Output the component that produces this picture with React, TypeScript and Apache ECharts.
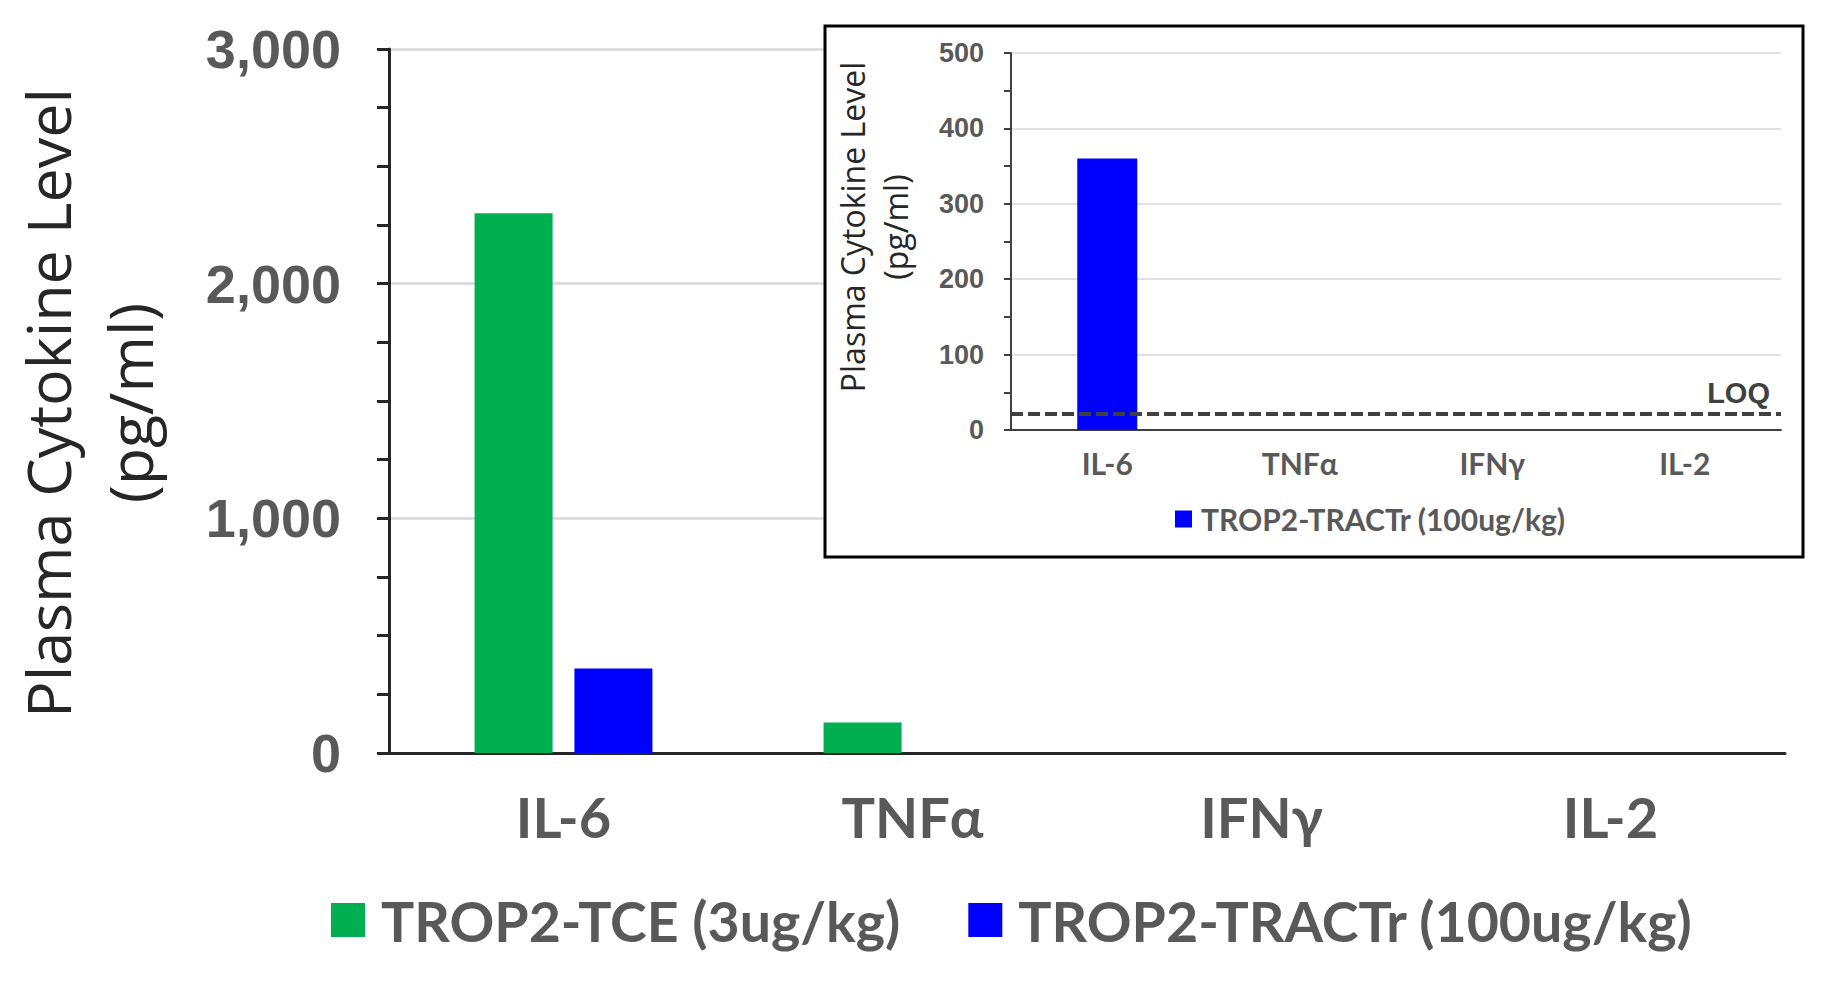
import React, { useEffect, useRef } from "react";
import * as echarts from "echarts";

const categories = ["IL-6", "TNFα", "IFNγ", "IL-2"];
const tceValues = [2300, 130, 0, 0];
const tractrValues = [360, 0, 0, 0];
const insetTractrValues = [360, 0, 0, 0];
const loqValue = 22;
const mainYMax = 3000;
const mainYInterval = 1000;
const insetYMax = 500;
const insetYInterval = 100;
const seriesNames = ["TROP2-TCE (3ug/kg)", "TROP2-TRACTr (100ug/kg)"];
const axisTitleLines = ["Plasma Cytokine Level", "(pg/ml)"];
const loqText = "LOQ";

const GREEN = "#00B050";
const BLUE = "#0000FF";
const DARK = "#262626";
const GREY = "#595959";
const GRID = "#d9d9d9";

export default function App() {
  const ref = useRef<HTMLDivElement>(null);

  useEffect(() => {
    if (!ref.current) return;
    const chart = echarts.init(ref.current, null, { renderer: "svg" });
    const option: any = {
      animation: false,
      backgroundColor: "#ffffff",
      grid: [
        { left: 389, top: 49, width: 1396, height: 704 },
        { left: 1011, top: 53, width: 770, height: 377 },
      ],
      xAxis: [
        {
          type: "category",
          gridIndex: 0,
          data: categories,
          axisLine: { lineStyle: { color: DARK, width: 3 } },
          axisTick: { show: false },
          axisLabel: {
            margin: 35,
            fontFamily: "Lato",
            fontWeight: "bold",
            fontSize: 56,
            lineHeight: 56,
            color: GREY,
          },
        },
        {
          type: "category",
          gridIndex: 1,
          data: categories,
          z: 4,
          axisLine: { lineStyle: { color: "#404040", width: 2 } },
          axisTick: { show: false },
          axisLabel: {
            margin: 18,
            fontFamily: "Lato",
            fontWeight: "bold",
            fontSize: 30,
            lineHeight: 30,
            color: GREY,
          },
        },
      ],
      yAxis: [
        {
          type: "value",
          gridIndex: 0,
          min: 0,
          max: mainYMax,
          interval: mainYInterval,
          axisLine: { show: true, lineStyle: { color: DARK, width: 3 } },
          axisTick: { show: true, length: 12, lineStyle: { color: DARK, width: 3 } },
          minorTick: { show: true, splitNumber: 4, length: 12, lineStyle: { color: DARK, width: 3 } },
          splitLine: { show: true, lineStyle: { color: GRID, width: 2.5 } },
          axisLabel: {
            margin: 48,
            fontFamily: "Liberation Sans",
            fontWeight: "bold",
            fontSize: 54,
            color: GREY,
            formatter: (v: number) => v.toLocaleString("en-US"),
          },
        },
        {
          type: "value",
          gridIndex: 1,
          min: 0,
          max: insetYMax,
          interval: insetYInterval,
          z: 4,
          axisLine: { show: true, lineStyle: { color: "#404040", width: 2 } },
          axisTick: { show: true, length: 7, lineStyle: { color: "#404040", width: 2 } },
          minorTick: { show: true, splitNumber: 2, length: 7, lineStyle: { color: "#404040", width: 2 } },
          splitLine: { show: true, lineStyle: { color: GRID, width: 1.5 } },
          axisLabel: {
            margin: 27,
            fontFamily: "Liberation Sans",
            fontWeight: "bold",
            fontSize: 27,
            color: GREY,
          },
        },
      ],
      legend: [
        {
          data: seriesNames,
          left: 326,
          top: 887,
          icon: "rect",
          itemWidth: 34,
          itemHeight: 34,
          itemGap: 68,
          selectedMode: false,
          textStyle: {
            fontFamily: "Lato",
            fontWeight: "bold",
            fontSize: 55.5,
            lineHeight: 55,
            color: GREY,
            padding: [0, 0, 0, 11],
          },
        },
        {
          data: [seriesNames[1]],
          left: 1170,
          top: 499,
          z: 6,
          icon: "rect",
          itemWidth: 17,
          itemHeight: 17,
          selectedMode: false,
          textStyle: {
            fontFamily: "Lato",
            fontWeight: "bold",
            fontSize: 30,
            lineHeight: 30,
            color: GREY,
            padding: [0, 0, 0, 4],
          },
        },
      ],
      graphic: [
        {
          type: "rect",
          z: 3,
          shape: { x: 825, y: 26, width: 978, height: 531 },
          style: { fill: "#ffffff", stroke: "#000000", lineWidth: 3 },
        },
        {
          type: "text",
          x: 47,
          y: 403,
          rotation: Math.PI / 2,
          style: {
            text: axisTitleLines[0],
            fontFamily: "Open Sans",
            fontSize: 61,
            fill: DARK,
            textAlign: "center",
            textVerticalAlign: "middle",
          },
        },
        {
          type: "text",
          x: 129,
          y: 403,
          rotation: Math.PI / 2,
          style: {
            text: axisTitleLines[1],
            fontFamily: "Open Sans",
            fontSize: 61,
            fill: DARK,
            textAlign: "center",
            textVerticalAlign: "middle",
          },
        },
        {
          type: "text",
          z: 6,
          x: 852,
          y: 227,
          rotation: Math.PI / 2,
          style: {
            text: axisTitleLines[0],
            fontFamily: "Open Sans",
            fontSize: 32,
            fill: DARK,
            textAlign: "center",
            textVerticalAlign: "middle",
          },
        },
        {
          type: "text",
          z: 6,
          x: 895,
          y: 227,
          rotation: Math.PI / 2,
          style: {
            text: axisTitleLines[1],
            fontFamily: "Open Sans",
            fontSize: 32,
            fill: DARK,
            textAlign: "center",
            textVerticalAlign: "middle",
          },
        },
      ],
      series: [
        {
          name: seriesNames[0],
          type: "bar",
          xAxisIndex: 0,
          yAxisIndex: 0,
          data: tceValues,
          barWidth: 78,
          barGap: "28%",
          itemStyle: { color: GREEN },
        },
        {
          name: seriesNames[1],
          type: "bar",
          xAxisIndex: 0,
          yAxisIndex: 0,
          data: tractrValues,
          barWidth: 78,
          barGap: "28%",
          itemStyle: { color: BLUE },
        },
        {
          name: seriesNames[1],
          type: "bar",
          xAxisIndex: 1,
          yAxisIndex: 1,
          z: 5,
          data: insetTractrValues,
          barWidth: 60,
          itemStyle: { color: BLUE },
          markLine: {
            silent: true,
            symbol: "none",
            z: 6,
            lineStyle: { color: "#404040", width: 4, type: [12, 5] },
            label: {
              show: true,
              formatter: loqText,
              position: "insideEndTop",
              distance: [11, 6],
              fontFamily: "Liberation Sans",
              fontWeight: "bold",
              fontSize: 29,
              color: "#404040",
            },
            data: [{ yAxis: loqValue }],
          },
        },
      ],
    };
    chart.setOption(option);
    return () => chart.dispose();
  }, []);

  return (
    <div
      ref={ref}
      style={{ position: "fixed", left: 0, top: 0, width: 1823, height: 990 }}
    />
  );
}
